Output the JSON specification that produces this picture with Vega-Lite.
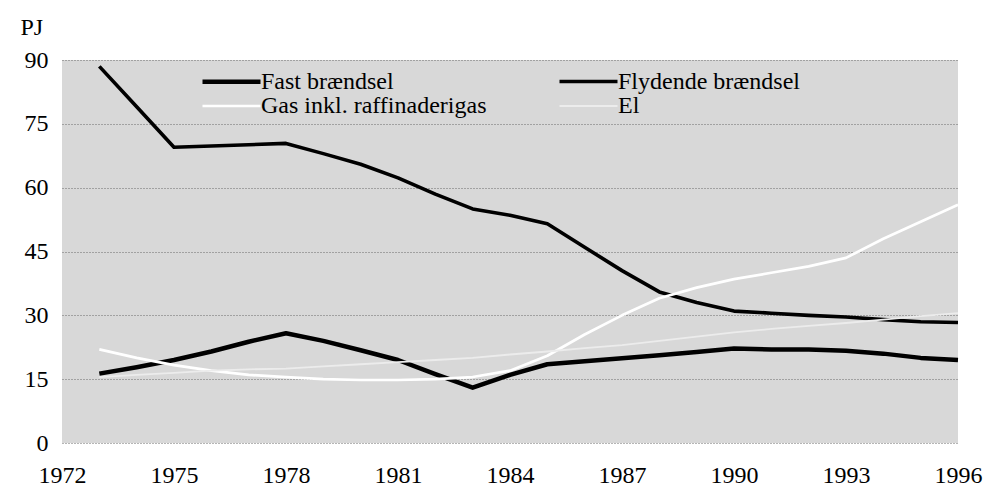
{
  "$schema": "https://vega.github.io/schema/vega-lite/v6.json",
  "width": 896,
  "height": 383,
  "autosize": "none",
  "padding": {"left": 62, "top": 60, "right": 27, "bottom": 51},
  "background": "white",
  "config": {
    "font": "Liberation Serif, DejaVu Serif, serif",
    "view": {"fill": "#d8d8d8", "stroke": null}
  },
  "data": {
    "values": [
      {"year": 1973, "series": "Fast brændsel", "pj": 16.3},
      {"year": 1974, "series": "Fast brændsel", "pj": 17.8},
      {"year": 1975, "series": "Fast brændsel", "pj": 19.5},
      {"year": 1976, "series": "Fast brændsel", "pj": 21.5},
      {"year": 1977, "series": "Fast brændsel", "pj": 23.8},
      {"year": 1978, "series": "Fast brændsel", "pj": 25.8},
      {"year": 1979, "series": "Fast brændsel", "pj": 24.0},
      {"year": 1980, "series": "Fast brændsel", "pj": 21.8},
      {"year": 1981, "series": "Fast brændsel", "pj": 19.5},
      {"year": 1982, "series": "Fast brændsel", "pj": 16.2},
      {"year": 1983, "series": "Fast brændsel", "pj": 13.0},
      {"year": 1984, "series": "Fast brændsel", "pj": 16.0},
      {"year": 1985, "series": "Fast brændsel", "pj": 18.5},
      {"year": 1986, "series": "Fast brændsel", "pj": 19.2},
      {"year": 1987, "series": "Fast brændsel", "pj": 19.9},
      {"year": 1988, "series": "Fast brændsel", "pj": 20.6},
      {"year": 1989, "series": "Fast brændsel", "pj": 21.4},
      {"year": 1990, "series": "Fast brændsel", "pj": 22.2},
      {"year": 1991, "series": "Fast brændsel", "pj": 22.0},
      {"year": 1992, "series": "Fast brændsel", "pj": 22.0},
      {"year": 1993, "series": "Fast brændsel", "pj": 21.7},
      {"year": 1994, "series": "Fast brændsel", "pj": 21.0},
      {"year": 1995, "series": "Fast brændsel", "pj": 20.0},
      {"year": 1996, "series": "Fast brændsel", "pj": 19.5},
      {"year": 1973, "series": "Flydende brændsel", "pj": 88.5},
      {"year": 1974, "series": "Flydende brændsel", "pj": 79.0},
      {"year": 1975, "series": "Flydende brændsel", "pj": 69.5},
      {"year": 1976, "series": "Flydende brændsel", "pj": 69.8},
      {"year": 1977, "series": "Flydende brændsel", "pj": 70.1},
      {"year": 1978, "series": "Flydende brændsel", "pj": 70.4},
      {"year": 1979, "series": "Flydende brændsel", "pj": 68.0},
      {"year": 1980, "series": "Flydende brændsel", "pj": 65.5},
      {"year": 1981, "series": "Flydende brændsel", "pj": 62.3},
      {"year": 1982, "series": "Flydende brændsel", "pj": 58.5},
      {"year": 1983, "series": "Flydende brændsel", "pj": 55.0},
      {"year": 1984, "series": "Flydende brændsel", "pj": 53.5},
      {"year": 1985, "series": "Flydende brændsel", "pj": 51.5},
      {"year": 1986, "series": "Flydende brændsel", "pj": 46.0},
      {"year": 1987, "series": "Flydende brændsel", "pj": 40.5},
      {"year": 1988, "series": "Flydende brændsel", "pj": 35.5},
      {"year": 1989, "series": "Flydende brændsel", "pj": 33.0},
      {"year": 1990, "series": "Flydende brændsel", "pj": 31.0},
      {"year": 1991, "series": "Flydende brændsel", "pj": 30.5},
      {"year": 1992, "series": "Flydende brændsel", "pj": 30.0},
      {"year": 1993, "series": "Flydende brændsel", "pj": 29.6},
      {"year": 1994, "series": "Flydende brændsel", "pj": 29.0},
      {"year": 1995, "series": "Flydende brændsel", "pj": 28.5},
      {"year": 1996, "series": "Flydende brændsel", "pj": 28.3},
      {"year": 1973, "series": "Gas inkl. raffinaderigas", "pj": 22.0},
      {"year": 1974, "series": "Gas inkl. raffinaderigas", "pj": 20.0},
      {"year": 1975, "series": "Gas inkl. raffinaderigas", "pj": 18.3},
      {"year": 1976, "series": "Gas inkl. raffinaderigas", "pj": 17.0},
      {"year": 1977, "series": "Gas inkl. raffinaderigas", "pj": 16.0},
      {"year": 1978, "series": "Gas inkl. raffinaderigas", "pj": 15.5},
      {"year": 1979, "series": "Gas inkl. raffinaderigas", "pj": 15.0},
      {"year": 1980, "series": "Gas inkl. raffinaderigas", "pj": 14.8},
      {"year": 1981, "series": "Gas inkl. raffinaderigas", "pj": 14.8},
      {"year": 1982, "series": "Gas inkl. raffinaderigas", "pj": 15.0},
      {"year": 1983, "series": "Gas inkl. raffinaderigas", "pj": 15.5},
      {"year": 1984, "series": "Gas inkl. raffinaderigas", "pj": 17.0},
      {"year": 1985, "series": "Gas inkl. raffinaderigas", "pj": 20.5},
      {"year": 1986, "series": "Gas inkl. raffinaderigas", "pj": 25.5},
      {"year": 1987, "series": "Gas inkl. raffinaderigas", "pj": 30.0},
      {"year": 1988, "series": "Gas inkl. raffinaderigas", "pj": 34.0},
      {"year": 1989, "series": "Gas inkl. raffinaderigas", "pj": 36.5},
      {"year": 1990, "series": "Gas inkl. raffinaderigas", "pj": 38.5},
      {"year": 1991, "series": "Gas inkl. raffinaderigas", "pj": 40.0},
      {"year": 1992, "series": "Gas inkl. raffinaderigas", "pj": 41.5},
      {"year": 1993, "series": "Gas inkl. raffinaderigas", "pj": 43.5},
      {"year": 1994, "series": "Gas inkl. raffinaderigas", "pj": 48.0},
      {"year": 1995, "series": "Gas inkl. raffinaderigas", "pj": 52.0},
      {"year": 1996, "series": "Gas inkl. raffinaderigas", "pj": 56.0},
      {"year": 1973, "series": "El", "pj": 15.5},
      {"year": 1974, "series": "El", "pj": 16.0},
      {"year": 1975, "series": "El", "pj": 16.5},
      {"year": 1976, "series": "El", "pj": 17.0},
      {"year": 1977, "series": "El", "pj": 17.3},
      {"year": 1978, "series": "El", "pj": 17.5},
      {"year": 1979, "series": "El", "pj": 18.0},
      {"year": 1980, "series": "El", "pj": 18.5},
      {"year": 1981, "series": "El", "pj": 19.0},
      {"year": 1982, "series": "El", "pj": 19.5},
      {"year": 1983, "series": "El", "pj": 20.0},
      {"year": 1984, "series": "El", "pj": 20.8},
      {"year": 1985, "series": "El", "pj": 21.5},
      {"year": 1986, "series": "El", "pj": 22.3},
      {"year": 1987, "series": "El", "pj": 23.0},
      {"year": 1988, "series": "El", "pj": 24.0},
      {"year": 1989, "series": "El", "pj": 25.0},
      {"year": 1990, "series": "El", "pj": 26.0},
      {"year": 1991, "series": "El", "pj": 26.8},
      {"year": 1992, "series": "El", "pj": 27.5},
      {"year": 1993, "series": "El", "pj": 28.2},
      {"year": 1994, "series": "El", "pj": 29.0},
      {"year": 1995, "series": "El", "pj": 29.8},
      {"year": 1996, "series": "El", "pj": 30.5}
    ]
  },
  "mark": {"type": "line", "strokeJoin": "round", "strokeCap": "butt"},
  "encoding": {
    "x": {
      "field": "year",
      "type": "quantitative",
      "scale": {"domain": [1972, 1996], "nice": false, "zero": false},
      "axis": {
        "title": null,
        "values": [1972, 1975, 1978, 1981, 1984, 1987, 1990, 1993, 1996],
        "format": "d",
        "grid": false,
        "domain": false,
        "ticks": false,
        "labelFont": "Liberation Serif, DejaVu Serif, serif",
        "labelFontSize": 24,
        "labelColor": "black",
        "labelPadding": 20,
        "labelFlush": false
      }
    },
    "y": {
      "field": "pj",
      "type": "quantitative",
      "scale": {"domain": [0, 90], "nice": false},
      "axis": {
        "title": "PJ",
        "titleAngle": 0,
        "titleX": -42,
        "titleY": -33,
        "titleAlign": "left",
        "titleBaseline": "middle",
        "titleFont": "Liberation Serif, DejaVu Serif, serif",
        "titleFontSize": 24,
        "titleFontWeight": "normal",
        "titleColor": "black",
        "values": [0, 15, 30, 45, 60, 75, 90],
        "grid": true,
        "gridColor": "#6a6a6a",
        "gridDash": [1, 2],
        "gridWidth": 1,
        "domain": false,
        "ticks": false,
        "labelFont": "Liberation Serif, DejaVu Serif, serif",
        "labelFontSize": 24,
        "labelColor": "black",
        "labelPadding": 14
      }
    },
    "color": {
      "field": "series",
      "type": "nominal",
      "scale": {
        "domain": ["Fast brændsel", "Flydende brændsel", "Gas inkl. raffinaderigas", "El"],
        "range": ["#000000", "#000000", "#ffffff", "#ececec"]
      },
      "legend": {
        "title": null,
        "orient": "none",
        "direction": "horizontal",
        "legendX": 138,
        "legendY": 9,
        "columns": 2,
        "columnPadding": 65,
        "rowPadding": -4,
        "symbolType": "M-2.9,0H2.9",
        "symbolSize": 400,
        "symbolOffset": 19,
        "labelFont": "Liberation Serif, DejaVu Serif, serif",
        "labelFontSize": 24,
        "labelColor": "black",
        "labelOffset": 17,
        "labelLimit": 400
      }
    },
    "strokeWidth": {
      "field": "series",
      "type": "nominal",
      "scale": {
        "domain": ["Fast brændsel", "Flydende brændsel", "Gas inkl. raffinaderigas", "El"],
        "range": [4.5, 1.8, 3, 2]
      },
      "legend": {
        "title": null,
        "orient": "none",
        "direction": "horizontal",
        "legendX": 138,
        "legendY": 9,
        "columns": 2,
        "columnPadding": 65,
        "rowPadding": -4,
        "symbolType": "M-2.9,0H2.9",
        "symbolSize": 400,
        "symbolOffset": 19,
        "labelFont": "Liberation Serif, DejaVu Serif, serif",
        "labelFontSize": 24,
        "labelColor": "black",
        "labelOffset": 17,
        "labelLimit": 400
      }
    }
  }
}
